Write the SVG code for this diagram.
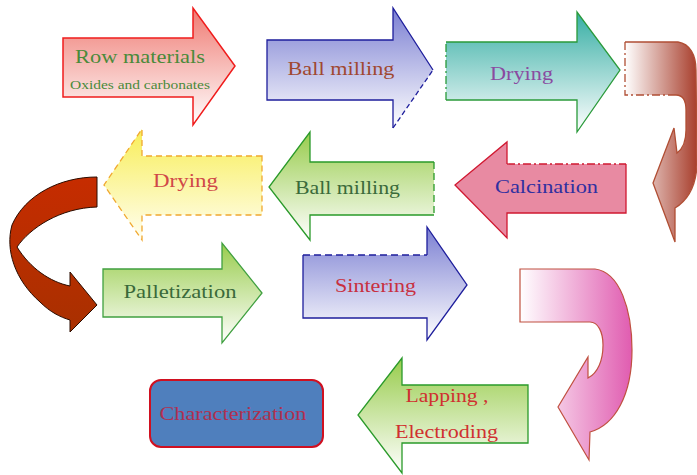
<svg xmlns="http://www.w3.org/2000/svg" width="697" height="475" viewBox="0 0 697 475">
<defs>
<linearGradient id="gRed" x1="0" y1="0" x2="0" y2="1"><stop offset="0" stop-color="#ef7a72"/><stop offset="1" stop-color="#ffffff"/></linearGradient>
<linearGradient id="gBlue" x1="0" y1="0" x2="0" y2="1"><stop offset="0" stop-color="#7b7fd2"/><stop offset="1" stop-color="#ffffff"/></linearGradient>
<linearGradient id="gTeal" x1="0" y1="0" x2="0" y2="1"><stop offset="0" stop-color="#36aea4"/><stop offset="1" stop-color="#ffffff"/></linearGradient>
<linearGradient id="gGreen" x1="0" y1="0" x2="0" y2="1"><stop offset="0" stop-color="#98cc4c"/><stop offset="1" stop-color="#ffffff"/></linearGradient>
<linearGradient id="gYellow" x1="0" y1="0" x2="0" y2="1"><stop offset="0" stop-color="#f8ee58"/><stop offset="1" stop-color="#fffef0"/></linearGradient>
<linearGradient id="gBrown" x1="0" y1="0" x2="1" y2="0"><stop offset="0" stop-color="#ffffff"/><stop offset="1" stop-color="#a83e2c"/></linearGradient>
<linearGradient id="gPink" x1="0" y1="0" x2="1" y2="0"><stop offset="0" stop-color="#ffffff"/><stop offset="1" stop-color="#e05cb0"/></linearGradient>
<linearGradient id="gDark" x1="0" y1="0" x2="0" y2="1"><stop offset="0" stop-color="#c62c00"/><stop offset="1" stop-color="#a83000"/></linearGradient>
</defs>
<style>
text{font-family:"Liberation Serif","Times New Roman",serif;font-size:19px;text-anchor:middle;}
.sm{font-size:13px;}
.edge{fill:none;stroke-width:1.3;}
</style>

<g id="connectors">
<path d="M625,42 L678,42 C690,44 696,55 696,70 L697,165 C696,185 688,200 675,208 L675,242 L653,183 L674,128 L677,153 C684,148 686,140 686,130 L686,110 C686,100 682,95 676,95 L625,95 Z" fill="url(#gBrown)" stroke="none"/>
<path class="edge" d="M625,42 L678,42 C690,44 696,55 696,70 L697,165 C696,185 688,200 675,208 L675,242 L653,183 L674,128 L677,153 C684,148 686,140 686,130 L686,110 C686,100 682,95 676,95" stroke="#b04e34"/>
<path class="edge" d="M676,95 L625,95 L625,42" stroke="#b04e34" stroke-dasharray="8,3,2,3"/>
<path id="curve-red" d="M97,177 C60,177 25,195 12,225 C5,250 15,280 40,302 C50,312 60,317 70,320 L70,332 L97,305 L70,272 L70,286 C50,282 30,268 17,247 C30,228 60,208 97,207 Z" fill="url(#gDark)" stroke="#2a0c00" stroke-width="1"/>
<path id="curve-pink" d="M520,269 L595,269 C620,272 632,310 632,350 C632,395 615,425 590,432 L589,460 L558,407 L588,357 L588,378 C598,373 603,360 603,345 C603,332 598,322 590,322 L520,322 Z" fill="url(#gPink)" stroke="#c05040" stroke-width="1.2"/>
</g>

<g id="row-materials">
<polygon points="63,38 193,38 193,8 235,66 193,125 193,97 63,97" fill="url(#gRed)" stroke="#f01c1c" stroke-width="1.5"/>
<text x="140" y="63" fill="#4a8a3a" textLength="130" lengthAdjust="spacingAndGlyphs">Row materials</text>
<text class="sm" x="140" y="89" fill="#4a8a3a" textLength="140" lengthAdjust="spacingAndGlyphs">Oxides and carbonates</text>
</g>

<g id="ball-milling-1">
<polygon points="267,40 393,40 393,8 433,70 393,128 393,100 267,100" fill="url(#gBlue)" stroke="none"/>
<polyline class="edge" points="433,70 393,8 393,40 267,40 267,100 393,100 393,128" stroke="#1e1e9c"/>
<line class="edge" x1="393" y1="128" x2="433" y2="70" stroke="#1e1e9c" stroke-dasharray="5,3"/>
<text x="341" y="75" fill="#a04830" textLength="107" lengthAdjust="spacingAndGlyphs">Ball milling</text>
</g>

<g id="drying-1">
<polygon points="446,42 577,42 577,12 620,70 577,132 577,100 446,100" fill="url(#gTeal)" stroke="none"/>
<polyline class="edge" points="446,42 577,42 577,12 620,70 577,132 577,100 446,100" stroke="#2a9a3a"/>
<line class="edge" x1="446" y1="100" x2="446" y2="42" stroke="#2a9a3a" stroke-dasharray="8,3,2,3"/>
<text x="521.5" y="80" fill="#8a4aa0" textLength="63" lengthAdjust="spacingAndGlyphs">Drying</text>
</g>

<g id="calcination">
<polygon points="626,164 507,164 507,142 455,185 507,238 507,213 626,213" fill="#e88aa2" stroke="none"/>
<polyline class="edge" points="626,164 626,213 507,213 507,238 455,185 507,142 507,164" stroke="#d01830"/>
<line class="edge" x1="507" y1="164" x2="626" y2="164" stroke="#d01830" stroke-dasharray="8,3,2,3"/>
<text x="546.5" y="193" fill="#3030a0" textLength="103" lengthAdjust="spacingAndGlyphs">Calcination</text>
</g>

<g id="ball-milling-2">
<polygon points="434,162 310,162 310,132 269,187 310,240 310,215 434,215" fill="url(#gGreen)" stroke="none"/>
<polyline class="edge" points="434,215 310,215 310,240 269,187 310,132 310,162 434,162" stroke="#2a9a2a"/>
<line class="edge" x1="434" y1="162" x2="434" y2="215" stroke="#2a9a2a" stroke-dasharray="7,4"/>
<text x="347.5" y="194" fill="#3a6a3a" textLength="105" lengthAdjust="spacingAndGlyphs">Ball milling</text>
</g>

<g id="drying-2">
<polygon points="262,156 142,156 142,129 104,185 142,240 142,215 262,215" fill="url(#gYellow)" stroke="#f0a830" stroke-width="1.3" stroke-dasharray="6,4"/>
<text x="185.5" y="187" fill="#d04848" textLength="65" lengthAdjust="spacingAndGlyphs">Drying</text>
</g>

<g id="palletization">
<polygon points="103,269 222,269 222,243 262,293 222,343 222,317 103,317" fill="url(#gGreen)" stroke="#40a040" stroke-width="1.3"/>
<text x="180" y="298" fill="#3a6a3a" textLength="113" lengthAdjust="spacingAndGlyphs">Palletization</text>
</g>

<g id="sintering">
<polygon points="303,255 427,255 427,227 467,285 427,340 427,318 303,318" fill="url(#gBlue)" stroke="none"/>
<polyline class="edge" points="427,255 427,227 467,285 427,340 427,318 303,318 303,255" stroke="#1e1e9c"/>
<line class="edge" x1="303" y1="255" x2="427" y2="255" stroke="#1e1e9c" stroke-width="1.8" stroke-dasharray="7,4"/>
<text x="375.5" y="292" fill="#c83040" textLength="81" lengthAdjust="spacingAndGlyphs">Sintering</text>
</g>

<g id="lapping">
<polygon points="528,385 402,385 402,358 358,415 402,473 402,443 528,443" fill="url(#gGreen)" stroke="#2a9a2a" stroke-width="1.3"/>
<text x="447" y="402" fill="#d03030" textLength="83" lengthAdjust="spacingAndGlyphs">Lapping ,</text>
<text x="446.5" y="438" fill="#d03030" textLength="103" lengthAdjust="spacingAndGlyphs">Electroding</text>
</g>

<g id="characterization">
<rect x="150" y="380" width="173" height="67" rx="11" fill="#4f7fbd" stroke="#d01020" stroke-width="2"/>
<text x="233" y="420" fill="#b03050" textLength="147" lengthAdjust="spacingAndGlyphs">Characterization</text>
</g>
</svg>
